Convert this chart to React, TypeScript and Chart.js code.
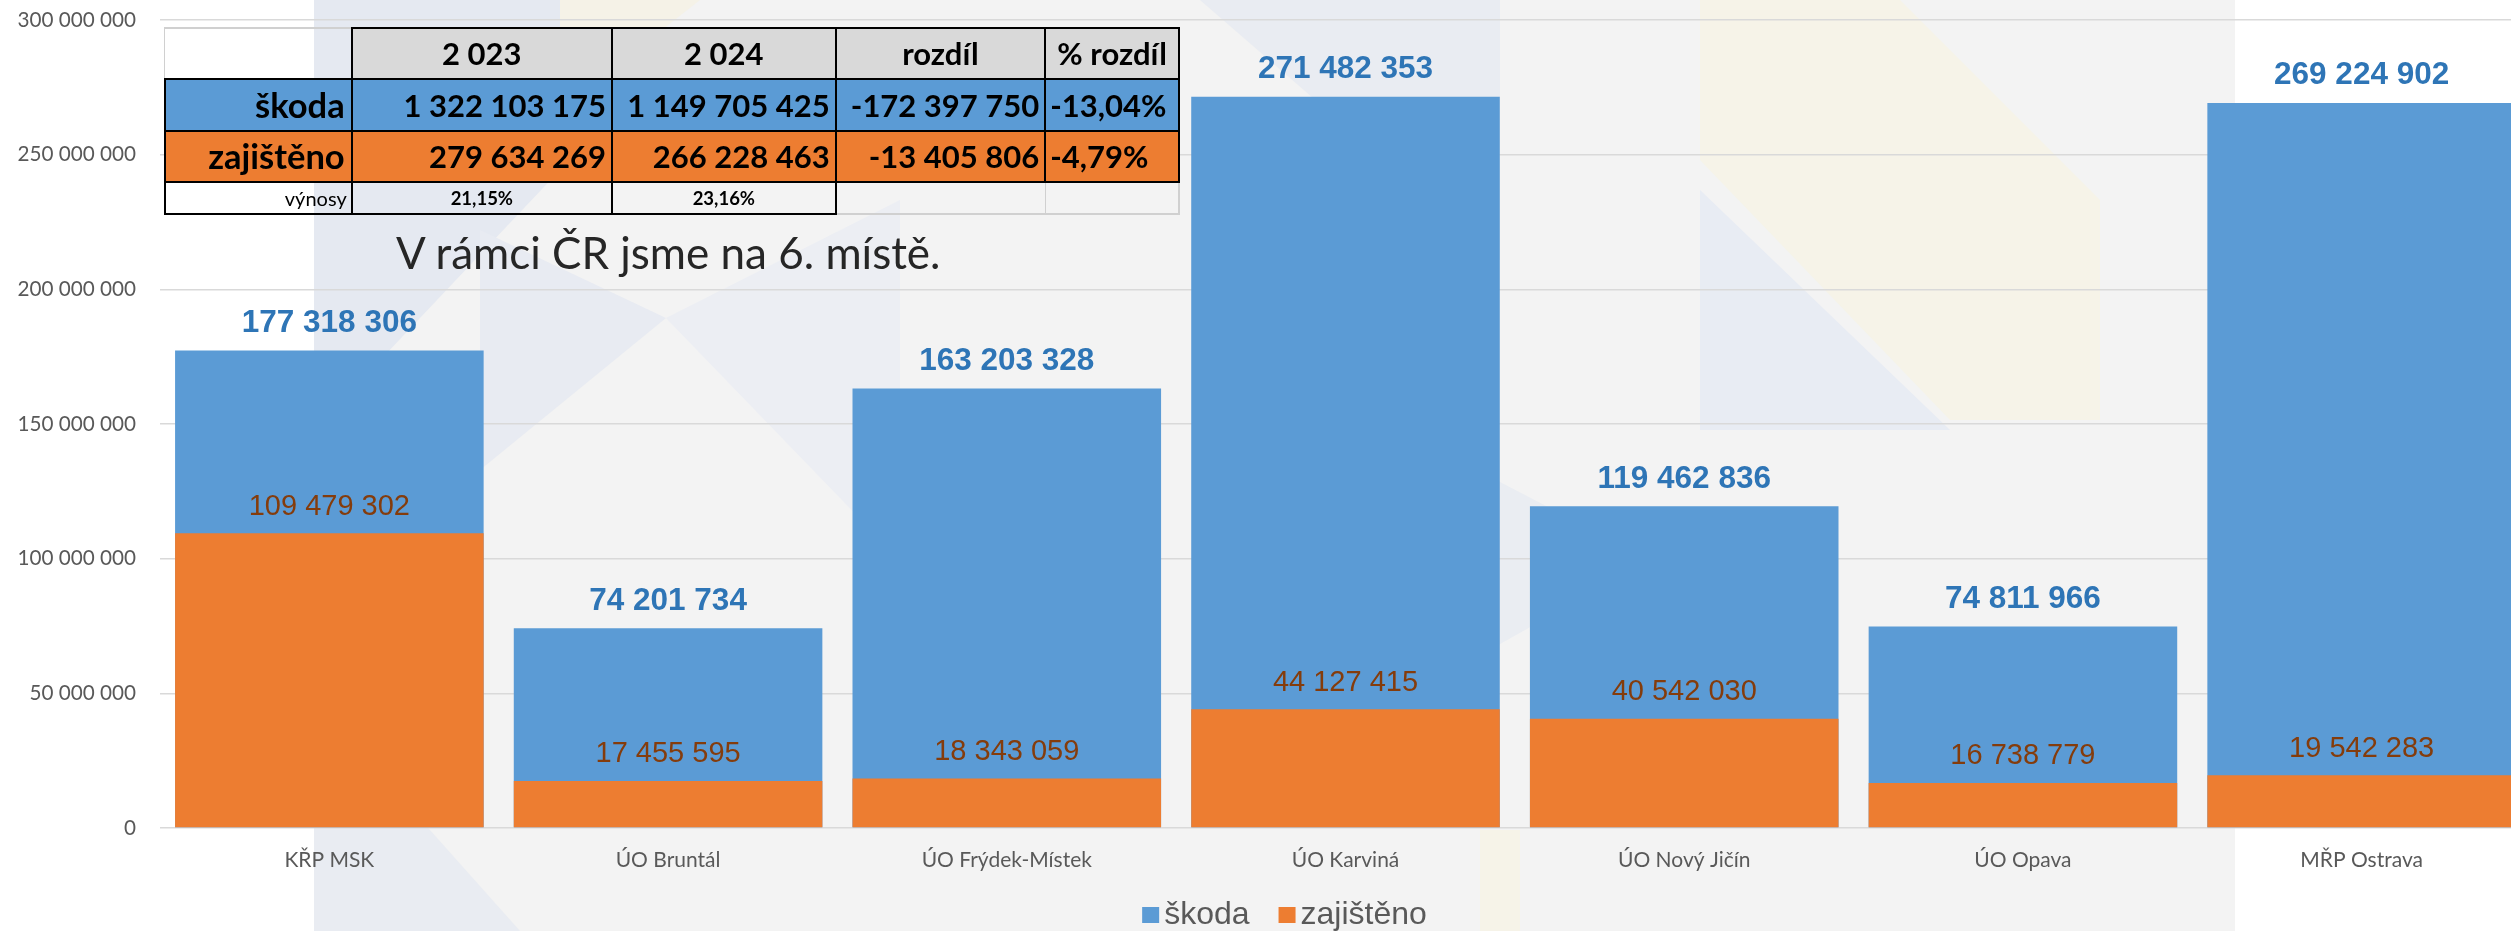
import React, { useEffect, useRef } from "react";
import { Chart, registerables } from "chart.js";

Chart.register(...registerables);

// ---------- data ----------
const categories = [
  "KŘP MSK",
  "ÚO Bruntál",
  "ÚO Frýdek-Místek",
  "ÚO Karviná",
  "ÚO Nový Jičín",
  "ÚO Opava",
  "MŘP Ostrava",
];
const skoda = [177318306, 74201734, 163203328, 271482353, 119462836, 74811966, 269224902];
const zajisteno = [109479302, 17455595, 18343059, 44127415, 40542030, 16738779, 19542283];
const seriesNames = ["škoda", "zajištěno"];
const yMin = 0;
const yMax = 300000000;
const yStep = 50000000;

const tableHeader = ["2 023", "2 024", "rozdíl", "% rozdíl"];
const tableSkoda = ["1 322 103 175", "1 149 705 425", "-172 397 750", "-13,04%"];
const tableZajisteno = ["279 634 269", "266 228 463", "-13 405 806", "-4,79%"];
const tableVynosyLabel = "výnosy";
const tableVynosy = ["21,15%", "23,16%"];
const noteText = "V rámci ČR jsme na 6. místě.";

// ---------- styles ----------
const BLUE = "#5b9bd5";
const ORANGE = "#ed7d31";
const BLUE_LABEL = "#2e75b6";
const ORANGE_LABEL = "#843c0c";
const AXIS_TEXT = "#595959";
const CANVAS_W = 2569;
const CANVAS_H = 931;

const fmt = (n: number) => String(Math.round(n)).replace(/\B(?=(\d{3})+(?!\d))/g, " ");

const backgroundPlugin = {
  id: "slideBackground",
  beforeDraw(chart: any) {
    const ctx = chart.ctx as CanvasRenderingContext2D;
    ctx.save();
    ctx.fillStyle = "#ffffff";
    ctx.fillRect(0, 0, chart.width, chart.height);
    ctx.fillStyle = "#f3f3f3";
    ctx.fillRect(314, 0, 2235 - 314, chart.height);
    const poly = (pts: number[][], color: string) => {
      ctx.beginPath();
      ctx.moveTo(pts[0][0], pts[0][1]);
      for (let i = 1; i < pts.length; i++) ctx.lineTo(pts[i][0], pts[i][1]);
      ctx.closePath();
      ctx.fillStyle = color;
      ctx.fill();
    };
    poly([[314, 0], [560, 0], [560, 170], [314, 430]], "#e5e9f1");
    poly([[480, 230], [666, 318], [480, 470]], "#e8ebf2");
    poly([[666, 318], [900, 200], [900, 560]], "#eceef3");
    poly([[560, 0], [700, 0], [560, 110]], "#f5f2e7");
    poly([[1200, 0], [1500, 0], [1500, 260]], "#e9ecf2");
    poly([[1700, 0], [1900, 0], [2100, 200], [2100, 420], [1950, 420], [1700, 160]], "#f6f3e8");
    poly([[1700, 190], [1950, 430], [1700, 430]], "#e8ecf3");
    poly([[1400, 430], [1650, 560], [1400, 700]], "#eaedf2");
    poly([[314, 700], [520, 931], [314, 931]], "#e9ecf2");
    poly([[1480, 830], [1520, 830], [1520, 931], [1480, 931]], "#f6f3e8");
    ctx.restore();
  },
};

const valueLabelPlugin = {
  id: "valueLabels",
  afterDatasetsDraw(chart: any) {
    const ctx = chart.ctx as CanvasRenderingContext2D;
    chart.data.datasets.forEach((ds: any, di: number) => {
      const meta = chart.getDatasetMeta(di);
      const isSkoda = ds.label === seriesNames[0];
      ctx.save();
      ctx.font = isSkoda ? "bold 31.5px 'Liberation Sans', Arial" : "29px 'Liberation Sans', Arial";
      ctx.fillStyle = isSkoda ? BLUE_LABEL : ORANGE_LABEL;
      ctx.textAlign = "center";
      ctx.textBaseline = "alphabetic";
      meta.data.forEach((el: any, i: number) => {
        ctx.fillText(fmt(ds.data[i]), el.x, el.y - 18.5);
      });
      ctx.restore();
    });
  },
};

const legendPlugin = {
  id: "customLegend",
  afterDraw(chart: any) {
    const ctx = chart.ctx as CanvasRenderingContext2D;
    ctx.save();
    ctx.font = "32px 'Liberation Sans', Arial";
    const items = [
      { text: seriesNames[0], color: BLUE },
      { text: seriesNames[1], color: ORANGE },
    ];
    const box = 17;
    const gap = 5;
    const spacing = 29;
    const widths = items.map((it) => ctx.measureText(it.text).width);
    const total = items.reduce((s, _it, i) => s + box + gap + widths[i], 0) + spacing;
    let x = 1284.5 - total / 2;
    const baseline = 924;
    items.forEach((it, i) => {
      ctx.fillStyle = it.color;
      ctx.fillRect(x, 907, box, 16);
      ctx.fillStyle = AXIS_TEXT;
      ctx.textAlign = "left";
      ctx.textBaseline = "alphabetic";
      ctx.fillText(it.text, x + box + gap, baseline);
      x += box + gap + widths[i] + spacing;
    });
    ctx.restore();
  },
};

function ChartCanvas() {
  const ref = useRef<HTMLCanvasElement | null>(null);
  useEffect(() => {
    if (!ref.current) return;
    const chart = new Chart(ref.current, {
      type: "bar",
      data: {
        labels: categories,
        datasets: [
          {
            label: seriesNames[1],
            data: zajisteno,
            backgroundColor: ORANGE,
            grouped: false,
            categoryPercentage: 1,
            barPercentage: 0.911,
          } as any,
          {
            label: seriesNames[0],
            data: skoda,
            backgroundColor: BLUE,
            grouped: false,
            categoryPercentage: 1,
            barPercentage: 0.911,
          } as any,
        ],
      },
      options: {
        responsive: false,
        animation: false,
        devicePixelRatio: 1,
        layout: { padding: { left: 0, right: 38, top: 20, bottom: 0 } },
        plugins: {
          legend: { display: false },
          tooltip: { enabled: false },
          title: { display: false },
        },
        scales: {
          x: {
            grid: { display: false, drawTicks: false },
            border: { display: false },
            ticks: {
              font: { family: "Lato", size: 21 },
              color: AXIS_TEXT,
              padding: 20,
              maxRotation: 0,
              autoSkip: false,
            },
            afterFit: (s: any) => {
              s.height = 103;
              s.paddingLeft = 0;
              s.paddingRight = 0;
            },
          },
          y: {
            min: yMin,
            max: yMax,
            grid: { color: "#d9d9d9", lineWidth: 1.5, drawTicks: false },
            border: { display: false },
            ticks: {
              stepSize: yStep,
              padding: 24,
              font: { family: "Lato", size: 20.7 },
              color: AXIS_TEXT,
              callback: (v: any) => fmt(Number(v)),
            },
            afterFit: (s: any) => {
              s.width = 160;
              s.paddingTop = 0;
              s.paddingBottom = 0;
            },
          },
        },
      },
      plugins: [backgroundPlugin, valueLabelPlugin, legendPlugin],
    });
    return () => chart.destroy();
  }, []);
  return (
    <canvas
      ref={ref}
      width={CANVAS_W}
      height={CANVAS_H}
      style={{ position: "absolute", left: 0, top: 0, width: CANVAS_W, height: CANVAS_H }}
    />
  );
}

// ---------- table overlay ----------
const colX = [164.7, 351.7, 612, 835.7, 1045.3, 1179];
const rowY = [28, 79, 131, 182, 214];

function HLine({ x1, x2, y, color, w }: any) {
  return (
    <div
      style={{
        position: "absolute",
        left: x1 - w / 2,
        top: y - w / 2,
        width: x2 - x1 + w,
        height: w,
        background: color,
      }}
    />
  );
}
function VLine({ x, y1, y2, color, w }: any) {
  return (
    <div
      style={{
        position: "absolute",
        left: x - w / 2,
        top: y1 - w / 2,
        width: w,
        height: y2 - y1 + w,
        background: color,
      }}
    />
  );
}
function Fill({ c, r, color, cspan = 1 }: any) {
  return (
    <div
      style={{
        position: "absolute",
        left: colX[c],
        top: rowY[r],
        width: colX[c + cspan] - colX[c],
        height: rowY[r + 1] - rowY[r],
        background: color,
      }}
    />
  );
}
function CellText({ c, r, text, align, size, bold, padL = 6, padR = 6 }: any) {
  return (
    <div
      style={{
        position: "absolute",
        left: colX[c],
        top: rowY[r],
        width: colX[c + 1] - colX[c],
        height: rowY[r + 1] - rowY[r],
        display: "flex",
        alignItems: "center",
        justifyContent: align === "left" ? "flex-start" : align === "right" ? "flex-end" : "center",
        paddingLeft: padL,
        paddingRight: padR,
        boxSizing: "border-box",
        fontFamily: "Lato",
        fontWeight: bold ? 700 : 400,
        fontSize: size,
        lineHeight: 1,
        color: "#000",
        whiteSpace: "nowrap",
      }}
    >
      {text}
    </div>
  );
}

function SummaryTable() {
  const B = "#000";
  const G = "#d0d0d0";
  const bw = 2;
  const gw = 1.5;
  return (
    <div style={{ position: "absolute", left: 0, top: 0 }}>
      {[1, 2, 3, 4].map((c) => (
        <Fill key={"h" + c} c={c} r={0} color="#d9d9d9" />
      ))}
      {[0, 1, 2, 3, 4].map((c) => (
        <Fill key={"s" + c} c={c} r={1} color={BLUE} />
      ))}
      {[0, 1, 2, 3, 4].map((c) => (
        <Fill key={"z" + c} c={c} r={2} color={ORANGE} />
      ))}
      {/* grey borders */}
      <HLine x1={colX[0]} x2={colX[1]} y={rowY[0]} color={G} w={gw} />
      <VLine x={colX[0]} y1={rowY[0]} y2={rowY[1]} color={G} w={gw} />
      <VLine x={colX[4]} y1={rowY[3]} y2={rowY[4]} color={G} w={gw} />
      <VLine x={colX[5]} y1={rowY[3]} y2={rowY[4]} color={G} w={gw} />
      <HLine x1={colX[3]} x2={colX[5]} y={rowY[4]} color={G} w={gw} />
      {/* black borders */}
      <HLine x1={colX[1]} x2={colX[5]} y={rowY[0]} color={B} w={bw} />
      <HLine x1={colX[0]} x2={colX[5]} y={rowY[1]} color={B} w={bw} />
      <HLine x1={colX[0]} x2={colX[5]} y={rowY[2]} color={B} w={bw} />
      <HLine x1={colX[0]} x2={colX[5]} y={rowY[3]} color={B} w={bw} />
      <HLine x1={colX[0]} x2={colX[3]} y={rowY[4]} color={B} w={bw} />
      <VLine x={colX[0]} y1={rowY[1]} y2={rowY[4]} color={B} w={bw} />
      <VLine x={colX[1]} y1={rowY[0]} y2={rowY[4]} color={B} w={bw} />
      <VLine x={colX[2]} y1={rowY[0]} y2={rowY[4]} color={B} w={bw} />
      <VLine x={colX[3]} y1={rowY[0]} y2={rowY[4]} color={B} w={bw} />
      <VLine x={colX[4]} y1={rowY[0]} y2={rowY[3]} color={B} w={bw} />
      <VLine x={colX[5]} y1={rowY[0]} y2={rowY[3]} color={B} w={bw} />
      {/* texts */}
      {tableHeader.map((t, i) => (
        <CellText key={"ht" + i} c={i + 1} r={0} text={t} align="center" size={31} bold />
      ))}
      <CellText c={0} r={1} text={seriesNames[0]} align="right" size={34.5} bold padR={7} />
      <CellText c={0} r={2} text={seriesNames[1]} align="right" size={34.5} bold padR={7} />
      {tableSkoda.map((t, i) => (
        <CellText key={"st" + i} c={i + 1} r={1} text={t} align={i === 3 ? "left" : "right"} size={31} bold padL={5} />
      ))}
      {tableZajisteno.map((t, i) => (
        <CellText key={"zt" + i} c={i + 1} r={2} text={t} align={i === 3 ? "left" : "right"} size={31} bold padL={5} />
      ))}
      <CellText c={0} r={3} text={tableVynosyLabel} align="right" size={20} padR={5} />
      {tableVynosy.map((t, i) => (
        <CellText key={"vt" + i} c={i + 1} r={3} text={t} align="center" size={18.5} bold />
      ))}
    </div>
  );
}

export default function App() {
  return (
    <div
      style={{
        position: "absolute",
        left: 0,
        top: 0,
        width: 2511,
        height: 931,
        overflow: "hidden",
        background: "#fff",
      }}
    >
      <ChartCanvas />
      <SummaryTable />
      <div
        style={{
          position: "absolute",
          left: 396,
          top: 229.5,
          fontFamily: "Lato",
          fontSize: 44,
          lineHeight: 1,
          color: "#262626",
          whiteSpace: "nowrap",
        }}
      >
        {noteText}
      </div>
    </div>
  );
}
